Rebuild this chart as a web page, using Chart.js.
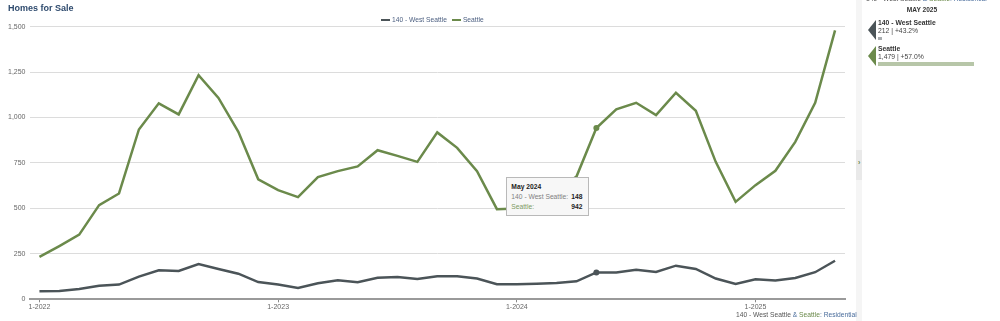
<!DOCTYPE html>
<html>
<head>
<meta charset="utf-8">
<script src="https://cdn.jsdelivr.net/npm/chart.js@4.4.1/dist/chart.umd.min.js"></script>
<style>
  html, body { margin: 0; padding: 0; background: #fff; }
  body { width: 1000px; height: 321px; position: relative; overflow: hidden; font-family: "Liberation Sans", Arial, sans-serif; }
  #c { position: absolute; left: 0; top: 0; }
  .abs { position: absolute; white-space: nowrap; }
  #title { left: 8px; top: 3px; font-size: 9px; font-weight: bold; color: #2f4b6e; }
  #legend { left: 381px; top: 16px; font-size: 6.7px; color: #4c5f80; display: flex; align-items: center; }
  #legend .sw { display: inline-block; width: 9px; height: 2px; margin-right: 2px; }
  #legend .it { display: flex; align-items: center; margin-right: 5px; }
  #tip { background: #f7f7f7; border: 1px solid #b9b9b9; font-size: 6.7px; padding: 4px 6px 4px 4px; box-sizing: border-box; width: 83px; line-height: 9.7px; }
  #tip .row { display: flex; justify-content: space-between; }
  #tip b { color: #222; }
  #strip { left: 856px; top: 0; width: 6px; height: 321px; background: #f5f5f5; }
  #stripmid { left: 856px; top: 150px; width: 6px; height: 30px; background: #e9e9e9; }
  #chev { left: 858px; top: 159px; font-size: 7px; color: #6b8b4c; font-weight: bold; }
  #panelhead { left: 862px; top: 6px; width: 120px; text-align: center; font-size: 6.6px; font-weight: bold; color: #333; }
  .flag { position: absolute; width: 8px; clip-path: polygon(100% 0, 100% 100%, 0 50%); }
  .pname { font-size: 6.8px; font-weight: bold; color: #333; }
  .pval { font-size: 6.8px; color: #444; }
  #topcap { left: 866px; top: -5px; font-size: 6.7px; }
  #botcap { left: 736px; top: 311px; font-size: 6.7px; }
</style>
</head>
<body>
<canvas id="c" width="1000" height="321"></canvas>
<div id="title" class="abs">Homes for Sale</div>
<div id="legend" class="abs"></div>
<div id="tip" class="abs"></div>
<div id="strip" class="abs"></div>
<div id="stripmid" class="abs"></div>
<div id="chev" class="abs">›</div>
<div id="panelhead" class="abs"></div>
<div id="panel"></div>
<div id="topcap" class="abs"></div>
<div id="botcap" class="abs"></div>
<script>
// ---- Data ----
const months = [
  'Jan 2022','Feb 2022','Mar 2022','Apr 2022','May 2022','Jun 2022','Jul 2022','Aug 2022','Sep 2022','Oct 2022','Nov 2022','Dec 2022',
  'Jan 2023','Feb 2023','Mar 2023','Apr 2023','May 2023','Jun 2023','Jul 2023','Aug 2023','Sep 2023','Oct 2023','Nov 2023','Dec 2023',
  'Jan 2024','Feb 2024','Mar 2024','Apr 2024','May 2024','Jun 2024','Jul 2024','Aug 2024','Sep 2024','Oct 2024','Nov 2024','Dec 2024',
  'Jan 2025','Feb 2025','Mar 2025','Apr 2025','May 2025'
];
const seriesNames = ['140 - West Seattle', 'Seattle'];
const westSeattle = [
  44, 46, 57, 75, 81, 125, 160, 156, 194, 167, 141, 95,
  81, 62, 88, 105, 94, 119, 123, 112, 127, 127, 114, 83,
  83, 86, 90, 99, 148, 148, 163, 150, 185, 167, 114, 84,
  110, 103, 117, 149, 212
];
const seattle = [
  233, 293, 356, 518, 582, 934, 1078, 1017, 1233, 1108, 921, 660,
  600, 562, 672, 705, 731, 820, 789, 756, 918, 833, 705, 496,
  500, 545, 600, 675, 942, 1045, 1081, 1013, 1136, 1037, 756, 536,
  628, 707, 866, 1081, 1479
];
const yTicks = [0, 250, 500, 750, 1000, 1250, 1500];
const tooltipMonth = 'May 2024';
const subtitle = 'Residential';

const colors = ['#4b5458', '#6b8a4b'];
const fmt = v => v.toLocaleString('en-US');
const tipIdx = months.indexOf(tooltipMonth);
const lastIdx = months.length - 1;

// ---- Legend ----
const legend = document.getElementById('legend');
seriesNames.forEach((n, i) => {
  const it = document.createElement('span'); it.className = 'it';
  it.innerHTML = '<span class="sw" style="background:' + colors[i] + '"></span><span>' + n + '</span>';
  legend.appendChild(it);
});

// ---- Captions ----
const capHTML = '<span style="color:#555">' + seriesNames[0] + '</span> <span style="color:#4a6d9c">&amp;</span> <span style="color:#6b8a4b">' + seriesNames[1] + '</span><span style="color:#4a6d9c">: ' + subtitle + '</span>';
document.getElementById('topcap').innerHTML = capHTML;
document.getElementById('botcap').innerHTML = capHTML;

// ---- Right panel ----
document.getElementById('panelhead').textContent = months[lastIdx].toUpperCase();
const panel = document.getElementById('panel');
const seriesData = [westSeattle, seattle];
const panelTops = [20, 46];
const barW = ['4px', '96px'];
const barC = ['#a9adb0', '#b7c6a8'];
seriesData.forEach((d, i) => {
  const top = panelTops[i];
  const chg = ((d[lastIdx] / d[lastIdx - 12] - 1) * 100).toFixed(1);
  const f = document.createElement('div'); f.className = 'flag';
  f.style.cssText = 'left:868px;top:' + top + 'px;height:20px;background:' + colors[i] + ';';
  panel.appendChild(f);
  const n = document.createElement('div'); n.className = 'abs pname';
  n.style.cssText = 'left:878px;top:' + (top - 1) + 'px;'; n.textContent = seriesNames[i];
  panel.appendChild(n);
  const v = document.createElement('div'); v.className = 'abs pval';
  v.style.cssText = 'left:878px;top:' + (top + 7) + 'px;'; v.textContent = fmt(d[lastIdx]) + ' | +' + chg + '%';
  panel.appendChild(v);
  const b = document.createElement('div'); b.className = 'abs';
  b.style.cssText = 'left:878px;top:' + (top + (i === 0 ? 17 : 16)) + 'px;height:' + (i === 0 ? 3 : 4) + 'px;width:' + barW[i] + ';background:' + barC[i] + ';';
  panel.appendChild(b);
});

// ---- Tooltip content ----
const tip = document.getElementById('tip');
tip.innerHTML = '<div style="font-weight:bold;color:#222">' + tooltipMonth + '</div>' +
  '<div class="row"><span style="color:#808080">' + seriesNames[0] + ':</span><b>' + fmt(westSeattle[tipIdx]) + '</b></div>' +
  '<div class="row"><span style="color:#7d9a62">' + seriesNames[1] + ':</span><b>' + fmt(seattle[tipIdx]) + '</b></div>';

const tipPlugin = {
  id: 'tipPos',
  afterDraw(chart) {
    const xs = chart.scales.x, ys = chart.scales.y;
    const px = xs.getPixelForValue(tipIdx);
    const avg = (ys.getPixelForValue(westSeattle[tipIdx]) + ys.getPixelForValue(seattle[tipIdx])) / 2;
    tip.style.left = (px - 7 - 83) + 'px';
    tip.style.top = (avg - 23) + 'px';
  }
};

const ptRadius = ctx => ctx.dataIndex === tipIdx ? 3 : 0;

new Chart(document.getElementById('c'), {
  type: 'line',
  data: {
    labels: months,
    datasets: [
      { label: seriesNames[0], data: westSeattle, borderColor: colors[0], backgroundColor: colors[0], borderWidth: 2.5, pointRadius: ptRadius, pointBorderWidth: 0, tension: 0 },
      { label: seriesNames[1], data: seattle, borderColor: colors[1], backgroundColor: colors[1], borderWidth: 2.5, pointRadius: ptRadius, pointBorderWidth: 0, tension: 0 }
    ]
  },
  options: {
    responsive: false,
    devicePixelRatio: 1,
    animation: false,
    events: [],
    layout: { padding: { left: 0, right: 155, top: 26.6, bottom: 0 } },
    plugins: { legend: { display: false }, tooltip: { enabled: false }, title: { display: false } },
    scales: {
      x: {
        type: 'category',
        offset: true,
        afterFit: s => { s.height = 21.7; },
        border: { display: true, color: '#9a9a9a', width: 2 },
        grid: {
          display: true, drawOnChartArea: false, drawTicks: true, tickLength: 3,
          color: ctx => (ctx.tick && ctx.tick.label) ? '#8a8a8a' : 'rgba(0,0,0,0)'
        },
        ticks: {
          autoSkip: false, maxRotation: 0, minRotation: 0, padding: 1,
          color: '#666', font: { family: 'Liberation Sans', size: 7 },
          callback: function (v, i) { const m = months[i]; return m.startsWith('Jan ') ? '1-' + m.slice(4) : ''; }
        }
      },
      y: {
        min: yTicks[0], max: yTicks[yTicks.length - 1],
        afterFit: s => { s.width = 29.5; },
        afterBuildTicks: s => { s.ticks = yTicks.map(v => ({ value: v })); },
        border: { display: false },
        grid: { color: '#dcdcdc', lineWidth: 1, drawTicks: false },
        ticks: { padding: 4, color: '#666', font: { family: 'Liberation Sans', size: 7 }, callback: v => fmt(v) }
      }
    }
  },
  plugins: [tipPlugin]
});
</script>
</body>
</html>
